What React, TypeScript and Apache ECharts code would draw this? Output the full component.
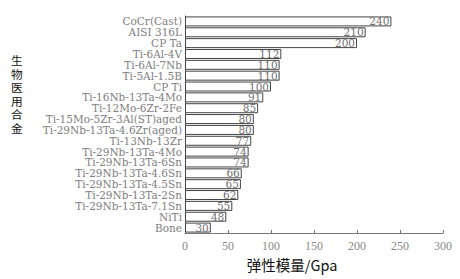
import React, { useEffect, useRef } from "react";
import * as echarts from "echarts";

const categories = [
  "CoCr(Cast)",
  "AISI 316L",
  "CP Ta",
  "Ti-6Al-4V",
  "Ti-6Al-7Nb",
  "Ti-5Al-1.5B",
  "CP Ti",
  "Ti-16Nb-13Ta-4Mo",
  "Ti-12Mo-6Zr-2Fe",
  "Ti-15Mo-5Zr-3Al(ST)aged",
  "Ti-29Nb-13Ta-4.6Zr(aged)",
  "Ti-13Nb-13Zr",
  "Ti-29Nb-13Ta-4Mo",
  "Ti-29Nb-13Ta-6Sn",
  "Ti-29Nb-13Ta-4.6Sn",
  "Ti-29Nb-13Ta-4.5Sn",
  "Ti-29Nb-13Ta-2Sn",
  "Ti-29Nb-13Ta-7.1Sn",
  "NiTi",
  "Bone",
];
const modulus = [240, 210, 200, 112, 110, 110, 100, 91, 85, 80, 80, 77, 74, 74, 66, 65, 62, 55, 48, 30];
const xTicks = [0, 50, 100, 150, 200, 250, 300];
const yNameChars = ["生", "物", "医", "用", "合", "金"];

export default function App() {
  const ref = useRef<HTMLDivElement>(null);
  useEffect(() => {
    const chart = echarts.init(ref.current!, null, { renderer: "svg" });
    const serif = "'DejaVu Serif', 'Liberation Serif', serif";
    const cjk = "'Noto Sans CJK SC', sans-serif";
    chart.setOption({
      animation: false,
      backgroundColor: "#fff",
      grid: { left: 185, right: 17, top: 16, bottom: 46 },
      xAxis: {
        type: "value",
        min: xTicks[0],
        max: xTicks[xTicks.length - 1],
        interval: 50,
        name: "弹性模量/Gpa",
        nameLocation: "middle",
        nameGap: 22,
        nameTextStyle: { fontFamily: cjk, fontSize: 14.5, color: "#111", padding: [0, 44, 0, 0] },
        axisLine: { show: true, lineStyle: { color: "#777", width: 1 } },
        axisTick: { show: true, inside: true, length: 3, lineStyle: { color: "#777" } },
        axisLabel: { fontFamily: "'Liberation Serif', serif", fontSize: 12, color: "#888", margin: 7 },
        splitLine: { show: false },
      },
      yAxis: {
        type: "category",
        data: categories,
        inverse: true,
        axisLine: { show: true, lineStyle: { color: "#555" } },
        axisTick: { show: false },
        axisLabel: { interval: 0, fontFamily: serif, fontSize: 10.5, color: "#808080", margin: 3 },
      },
      series: [
        {
          type: "bar",
          data: modulus,
          barCategoryGap: "8%",
          itemStyle: { color: "#fff", borderColor: "#444", borderWidth: 1 },
          label: {
            show: true,
            position: "insideRight",
            distance: 2,
            fontFamily: serif,
            fontSize: 10.5,
            color: "#707070",
          },
        },
      ],
      graphic: yNameChars.map((c, i) => ({
        type: "text",
        x: 11,
        y: 54 + i * 13.5,
        scaleX: 1.3,
        scaleY: 1.3,
        style: {
          text: c,
          fontFamily: cjk,
          fontSize: 9,
          fill: "#111",
        },
      })),
    });
    return () => chart.dispose();
  }, []);
  return <div ref={ref} style={{ width: 460, height: 279, position: "absolute", left: 0, top: 0 }} />;
}
